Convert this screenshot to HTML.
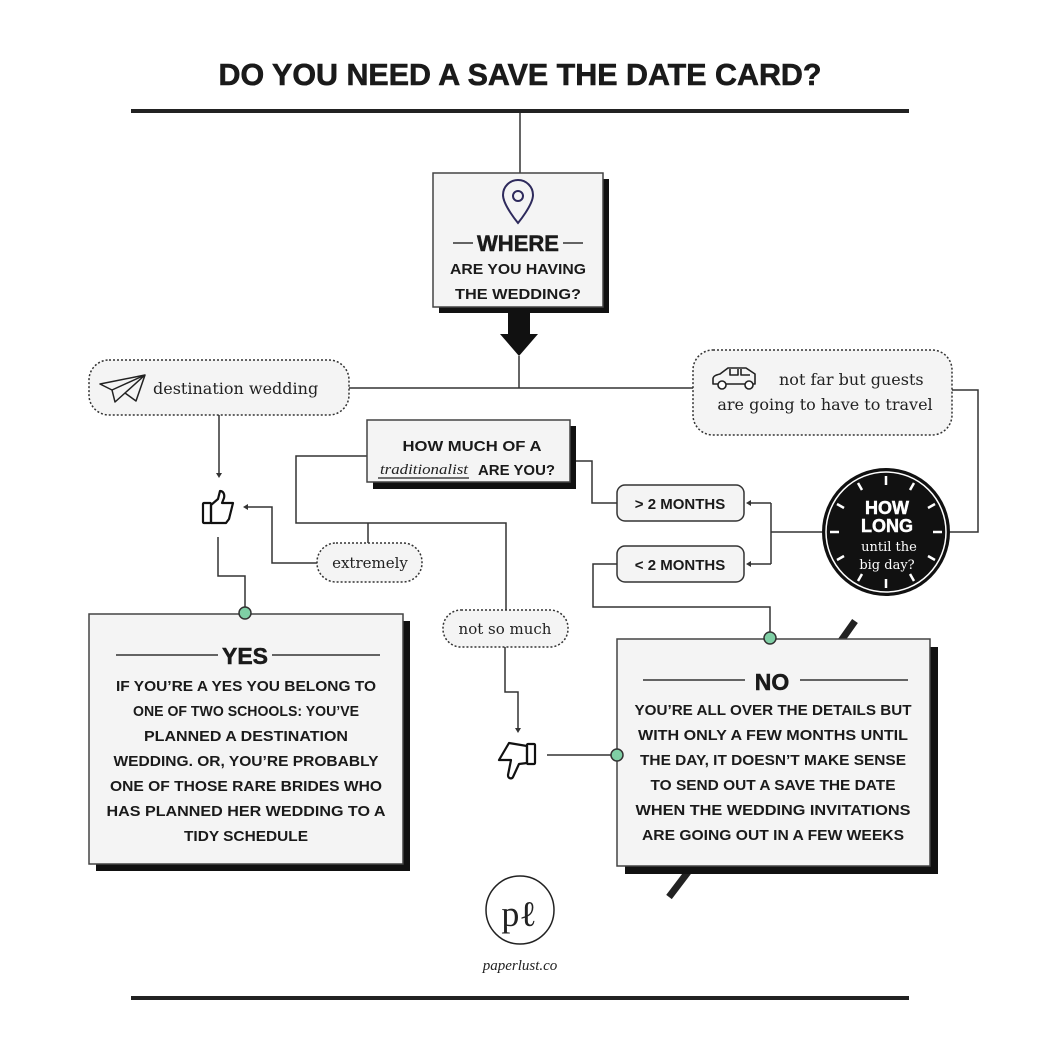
<!DOCTYPE html>
<html><head><meta charset="utf-8"><style>
html,body{margin:0;padding:0;background:#fff;}
svg{display:block;}
.h{font-family:"Liberation Sans",sans-serif;font-weight:bold;fill:#1a1a1a;}
.s{font-family:"DejaVu Serif","Liberation Serif",serif;fill:#222;}
</style></head><body>
<svg width="1040" height="1040" viewBox="0 0 1040 1040" xmlns="http://www.w3.org/2000/svg">
<rect width="1040" height="1040" fill="#fff"/>
<text class="h" x="520" y="85" font-size="31" text-anchor="middle" textLength="603" lengthAdjust="spacingAndGlyphs" stroke="#1a1a1a" stroke-width="0.6">DO YOU NEED A SAVE THE DATE CARD?</text>
<rect x="131" y="109" width="778" height="4" fill="#222"/>
<rect x="131" y="996" width="778" height="4" fill="#222"/>

<g fill="none" stroke="#333" stroke-width="1.5">
<path d="M520 113V173"/>
<path d="M519 356V388"/>
<path d="M349 388H693"/>
<path d="M952 390H978V532H948"/>
<path d="M822 532H771M771 503V564M771 503H750M771 564H750"/>
<path d="M617 503H592V461H573"/>
<path d="M617 564H593V607H770V632"/>
<path d="M367 456H296V523H506V610"/>
<path d="M368 523V543"/>
<path d="M317 563H272V507H246"/>
<path d="M219 415V474"/>
<path d="M218 537V576H245V607"/>
<path d="M505 647V692H518V729"/>
<path d="M547 755H611"/>
</g>
<g fill="#333">
<path d="M746 503l5-3v6z"/><path d="M746 564l5-3v6z"/>
<path d="M243 507l5-3v6z"/>
<path d="M219 478l-3-5h6z"/>
<path d="M518 733l-3-5h6z"/>
</g>

<path d="M855 621L838 645" stroke="#222" stroke-width="7"/>
<path d="M688 872L669 897" stroke="#222" stroke-width="7"/>

<!-- WHERE box -->
<rect x="439" y="179" width="170" height="134" fill="#111"/>
<rect x="433" y="173" width="170" height="134" fill="#f4f4f4" stroke="#444" stroke-width="1.5"/>
<path d="M518 223c0 0-15-18-15-28a15 15 0 0 1 30 0c0 10-15 28-15 28z" fill="none" stroke="#2e2a5c" stroke-width="2"/>
<circle cx="518" cy="196" r="5" fill="none" stroke="#2e2a5c" stroke-width="2"/>
<path d="M453 243H473M563 243H583" stroke="#333" stroke-width="1.5"/>
<text class="h" x="518" y="251" font-size="22" text-anchor="middle" stroke="#1a1a1a" stroke-width="0.5">WHERE</text>
<text class="h" x="518" y="274" font-size="15" text-anchor="middle" textLength="136" lengthAdjust="spacingAndGlyphs">ARE YOU HAVING</text>
<text class="h" x="518" y="299" font-size="15" text-anchor="middle" textLength="126" lengthAdjust="spacingAndGlyphs">THE WEDDING?</text>
<path d="M508 313H530V334H538L519 356L500 334H508Z" fill="#111"/>

<!-- destination pill -->
<rect x="89" y="360" width="260" height="55" rx="20" fill="#f4f4f4" stroke="#333" stroke-width="1.5" stroke-dasharray="2 2"/>
<g fill="none" stroke="#222" stroke-width="1.5" stroke-linejoin="round">
<path d="M100 384L145 375L136 401L125 393L115 402L112 390Z"/>
<path d="M112 390L145 375M125 393L145 375"/>
</g>
<text class="s" x="153" y="394" font-size="16">destination wedding</text>

<!-- car pill -->
<rect x="693" y="350" width="259" height="85" rx="20" fill="#f4f4f4" stroke="#333" stroke-width="1.5" stroke-dasharray="2 2"/>
<g fill="none" stroke="#222" stroke-width="1.6" stroke-linejoin="round">
<path d="M713 384v-5c0-3 3-4 7-5l8-6h18l9 6v10z"/>
<path d="M730 369v6h8v-6M741 369v6h9"/>
<circle cx="722" cy="385" r="4" fill="#fff"/><circle cx="749" cy="385" r="4" fill="#fff"/>
</g>
<text class="s" x="779" y="385" font-size="16">not far but guests</text>
<text class="s" x="825" y="410" font-size="16" text-anchor="middle">are going to have to travel</text>

<!-- clock -->
<circle cx="886" cy="532" r="64" fill="#111"/>
<circle cx="886" cy="532" r="60" fill="none" stroke="#fff" stroke-width="1.5"/>
<g stroke="#fff" stroke-width="2.5">
<path d="M886 476v9M886 579v9M830 532h9M933 532h9"/>
<path d="M858 483l4 7M914 483l-4 7M858 581l4-7M914 581l-4-7M837 504l7 4M935 504l-7 4M837 560l7-4M935 560l-7-4"/>
</g>
<text class="h" x="887" y="514" font-size="18" text-anchor="middle" style="fill:#fff" stroke="#fff" stroke-width="0.5">HOW</text>
<text class="h" x="887" y="532" font-size="18" text-anchor="middle" style="fill:#fff" stroke="#fff" stroke-width="0.5">LONG</text>
<text class="s" x="889" y="551" font-size="13" text-anchor="middle" style="fill:#fff">until the</text>
<text class="s" x="887" y="569" font-size="13" text-anchor="middle" style="fill:#fff">big day?</text>

<!-- months -->
<rect x="617" y="485" width="127" height="36" rx="8" fill="#f4f4f4" stroke="#333" stroke-width="1.5"/>
<text class="h" x="680" y="509" font-size="15" text-anchor="middle">&gt; 2 MONTHS</text>
<rect x="617" y="546" width="127" height="36" rx="8" fill="#f4f4f4" stroke="#333" stroke-width="1.5"/>
<text class="h" x="680" y="570" font-size="15" text-anchor="middle">&lt; 2 MONTHS</text>

<!-- traditionalist -->
<rect x="373" y="426" width="203" height="63" fill="#111"/>
<rect x="367" y="420" width="203" height="62" fill="#f4f4f4" stroke="#444" stroke-width="1.5"/>
<text class="h" x="472" y="451" font-size="15" text-anchor="middle" textLength="139" lengthAdjust="spacingAndGlyphs">HOW MUCH OF A</text>
<text x="380" y="474" font-size="15" font-style="italic" font-family="'Liberation Serif',serif" fill="#222" textLength="88" lengthAdjust="spacingAndGlyphs">traditionalist</text>
<path d="M378 478H469" stroke="#222" stroke-width="1.2"/>
<text class="h" x="478" y="475" font-size="15" textLength="77" lengthAdjust="spacingAndGlyphs">ARE YOU?</text>

<!-- extremely / not so much -->
<rect x="317" y="543" width="105" height="39" rx="19" fill="#f4f4f4" stroke="#333" stroke-width="1.5" stroke-dasharray="2 2"/>
<text class="s" x="370" y="568" font-size="15" text-anchor="middle">extremely</text>
<rect x="443" y="610" width="125" height="37" rx="18" fill="#f4f4f4" stroke="#333" stroke-width="1.5" stroke-dasharray="2 2"/>
<text class="s" x="505" y="634" font-size="15" text-anchor="middle">not so much</text>

<!-- thumbs -->
<g fill="none" stroke="#111" stroke-width="2.2" stroke-linejoin="round">
<rect x="203" y="503" width="8" height="20" rx="1"/>
<path d="M211 505l7-6 2-8c3 0 5 3 4 7l-2 5h11l-4 16-3 4h-15z"/>
<rect x="527" y="744" width="8" height="20" rx="1"/>
<path d="M527 746l-18-3-10 17h12l-3 15c0 4 4 4 5 2l6-13 8-1z"/>
</g>

<!-- YES box -->
<rect x="96" y="621" width="314" height="250" fill="#111"/>
<rect x="89" y="614" width="314" height="250" fill="#f4f4f4" stroke="#444" stroke-width="1.5"/>
<circle cx="245" cy="613" r="6" fill="#7fcfa5" stroke="#333" stroke-width="1.5"/>
<path d="M116 655H218M272 655H380" stroke="#333" stroke-width="1.5"/>
<text class="h" x="245" y="664" font-size="23" text-anchor="middle" stroke="#1a1a1a" stroke-width="0.5">YES</text>
<g class="h" font-size="15" text-anchor="middle">
<text x="246" y="691" textLength="260" lengthAdjust="spacingAndGlyphs">IF YOU’RE A YES YOU BELONG TO</text>
<text x="246" y="716" textLength="226" lengthAdjust="spacingAndGlyphs">ONE OF TWO SCHOOLS: YOU’VE</text>
<text x="246" y="741" textLength="204" lengthAdjust="spacingAndGlyphs">PLANNED A DESTINATION</text>
<text x="246" y="766" textLength="265" lengthAdjust="spacingAndGlyphs">WEDDING. OR, YOU’RE PROBABLY</text>
<text x="246" y="791" textLength="272" lengthAdjust="spacingAndGlyphs">ONE OF THOSE RARE BRIDES WHO</text>
<text x="246" y="816" textLength="279" lengthAdjust="spacingAndGlyphs">HAS  PLANNED HER WEDDING TO A</text>
<text x="246" y="841" textLength="124" lengthAdjust="spacingAndGlyphs">TIDY SCHEDULE</text>
</g>

<!-- NO box -->
<rect x="625" y="647" width="313" height="227" fill="#111"/>
<rect x="617" y="639" width="313" height="227" fill="#f4f4f4" stroke="#444" stroke-width="1.5"/>
<circle cx="770" cy="638" r="6" fill="#7fcfa5" stroke="#333" stroke-width="1.5"/>
<circle cx="617" cy="755" r="6" fill="#7fcfa5" stroke="#333" stroke-width="1.5"/>
<path d="M643 680H745M800 680H908" stroke="#333" stroke-width="1.5"/>
<text class="h" x="772" y="690" font-size="23" text-anchor="middle" stroke="#1a1a1a" stroke-width="0.5">NO</text>
<g class="h" font-size="15" text-anchor="middle">
<text x="773" y="715" textLength="277" lengthAdjust="spacingAndGlyphs">YOU’RE ALL OVER THE DETAILS BUT</text>
<text x="773" y="740" textLength="270" lengthAdjust="spacingAndGlyphs">WITH ONLY A FEW MONTHS UNTIL</text>
<text x="773" y="765" textLength="266" lengthAdjust="spacingAndGlyphs">THE DAY, IT DOESN’T MAKE SENSE</text>
<text x="773" y="790" textLength="245" lengthAdjust="spacingAndGlyphs">TO SEND OUT A SAVE THE DATE</text>
<text x="773" y="815" textLength="275" lengthAdjust="spacingAndGlyphs">WHEN THE WEDDING INVITATIONS</text>
<text x="773" y="840" textLength="262" lengthAdjust="spacingAndGlyphs">ARE GOING OUT IN A FEW WEEKS</text>
</g>

<!-- logo -->
<circle cx="520" cy="910" r="34" fill="none" stroke="#222" stroke-width="1.5"/>
<text x="519" y="926" font-size="36" text-anchor="middle" font-family="'Liberation Serif',serif" fill="#222">pℓ</text>
<text x="520" y="970" font-size="15" font-style="italic" text-anchor="middle" font-family="'Liberation Serif',serif" fill="#222">paperlust.co</text>
</svg>
</body></html>
